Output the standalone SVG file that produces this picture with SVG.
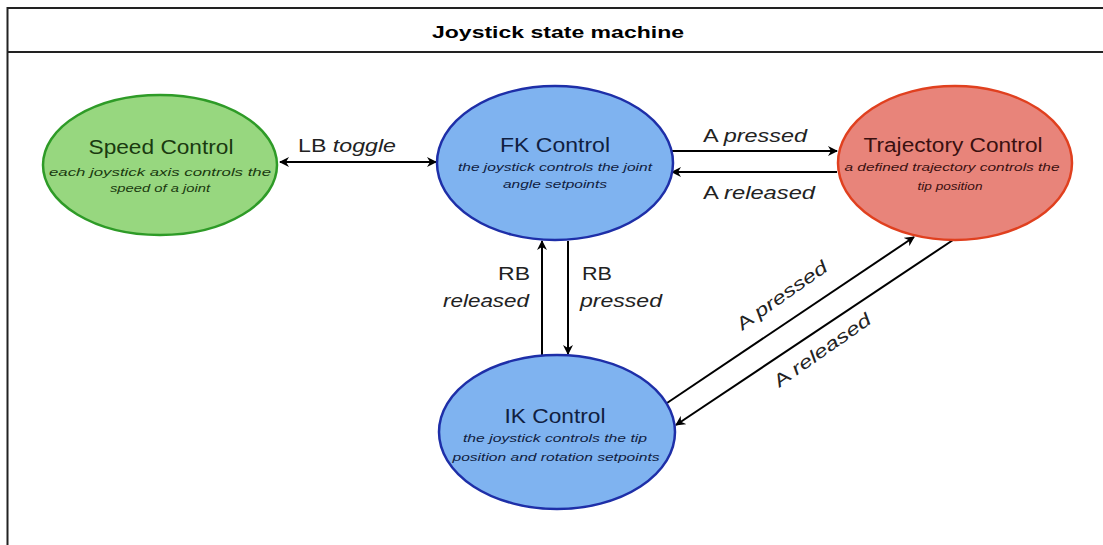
<svg xmlns="http://www.w3.org/2000/svg" width="1103" height="545" viewBox="0 0 1103 545">
<style>
text{font-family:"Liberation Sans",Arial,sans-serif}
.t{font-size:20px;text-anchor:middle}
.s{font-size:11.5px;font-style:italic;text-anchor:middle}
.l{font-size:18px;fill:#222}
.i{font-style:italic}
.c{stroke:#000;stroke-width:2;fill:none}
</style>
<defs>
<marker id="ah" viewBox="0 0 10 10" refX="9" refY="5" markerWidth="11" markerHeight="10" orient="auto-start-reverse" markerUnits="userSpaceOnUse">
<path d="M0,0 L10,5 L0,10 L3,5 z" fill="#000"/>
</marker>
</defs>
<rect width="1103" height="545" fill="#fff"/>
<g id="frame">
<path d="M1103,8 H7.5 V545" fill="none" stroke="#222" stroke-width="2"/>
<line x1="7" y1="52" x2="1103" y2="52" stroke="#222" stroke-width="2"/>
<text x="558" y="38" font-size="17" font-weight="bold" text-anchor="middle" textLength="252" lengthAdjust="spacingAndGlyphs">Joystick state machine</text>
</g>
<g id="connectors">
<line class="c" x1="280" y1="162" x2="436" y2="162" marker-start="url(#ah)" marker-end="url(#ah)"/>
<line class="c" x1="672" y1="151" x2="837" y2="151" marker-end="url(#ah)"/>
<line class="c" x1="837" y1="172" x2="672" y2="172" marker-end="url(#ah)"/>
<line class="c" x1="542" y1="355" x2="542" y2="241" marker-end="url(#ah)"/>
<line class="c" x1="568" y1="241" x2="568" y2="354" marker-end="url(#ah)"/>
<line class="c" x1="667" y1="403" x2="914" y2="237" marker-end="url(#ah)"/>
<line class="c" x1="953" y1="240" x2="676" y2="425" marker-end="url(#ah)"/>
<text class="l" x="298" y="152" textLength="98" lengthAdjust="spacingAndGlyphs">LB <tspan class="i">toggle</tspan></text>
<text class="l" x="703" y="142" textLength="104" lengthAdjust="spacingAndGlyphs">A <tspan class="i">pressed</tspan></text>
<text class="l" x="703" y="199" textLength="112" lengthAdjust="spacingAndGlyphs">A <tspan class="i">released</tspan></text>
<text class="l" x="530" y="280" text-anchor="end" textLength="32" lengthAdjust="spacingAndGlyphs">RB</text>
<text class="l i" x="529" y="307" text-anchor="end" textLength="86" lengthAdjust="spacingAndGlyphs">released</text>
<text class="l" x="582" y="280" textLength="30" lengthAdjust="spacingAndGlyphs">RB</text>
<text class="l i" x="580" y="307" textLength="82" lengthAdjust="spacingAndGlyphs">pressed</text>
<text class="l" transform="translate(742,331) rotate(-35)" textLength="106" lengthAdjust="spacingAndGlyphs">A <tspan class="i">pressed</tspan></text>
<text class="l" transform="translate(779,388) rotate(-35)" textLength="114" lengthAdjust="spacingAndGlyphs">A <tspan class="i">released</tspan></text>
</g>
<g id="speed">
<ellipse cx="160" cy="165" rx="117" ry="70" fill="#97d77f" stroke="#2e9b27" stroke-width="2.5"/>
<text class="t" x="161" y="154" fill="#1a3a10" textLength="145" lengthAdjust="spacingAndGlyphs">Speed Control</text>
<text class="s" x="160" y="176" fill="#1a3a10" textLength="222" lengthAdjust="spacingAndGlyphs">each joystick axis controls the</text>
<text class="s" x="160" y="192" fill="#1a3a10" textLength="100" lengthAdjust="spacingAndGlyphs">speed of a joint</text>
</g>
<g id="fk">
<ellipse cx="555" cy="163" rx="118" ry="77" fill="#7fb3f0" stroke="#1e2fa8" stroke-width="2.5"/>
<text class="t" x="555" y="152" fill="#102040" textLength="110" lengthAdjust="spacingAndGlyphs">FK Control</text>
<text class="s" x="555" y="171" fill="#102040" textLength="194" lengthAdjust="spacingAndGlyphs">the joystick controls the joint</text>
<text class="s" x="555" y="188" fill="#102040" textLength="104" lengthAdjust="spacingAndGlyphs">angle setpoints</text>
</g>
<g id="traj">
<ellipse cx="955" cy="163" rx="117" ry="77" fill="#e8847a" stroke="#e0401f" stroke-width="2.5"/>
<text class="t" x="953" y="152" fill="#3a1010" textLength="179" lengthAdjust="spacingAndGlyphs">Trajectory Control</text>
<text class="s" x="952" y="171" fill="#3a1010" textLength="215" lengthAdjust="spacingAndGlyphs">a defined trajectory controls the</text>
<text class="s" x="950" y="190" fill="#3a1010" textLength="65" lengthAdjust="spacingAndGlyphs">tip position</text>
</g>
<g id="ik">
<ellipse cx="557" cy="432" rx="118" ry="77" fill="#7fb3f0" stroke="#1e2fa8" stroke-width="2.5"/>
<text class="t" x="555" y="423" fill="#102040" textLength="101" lengthAdjust="spacingAndGlyphs">IK Control</text>
<text class="s" x="555" y="442" fill="#102040" textLength="184" lengthAdjust="spacingAndGlyphs">the joystick controls the tip</text>
<text class="s" x="556" y="461" fill="#102040" textLength="207" lengthAdjust="spacingAndGlyphs">position and rotation setpoints</text>
</g>
</svg>
